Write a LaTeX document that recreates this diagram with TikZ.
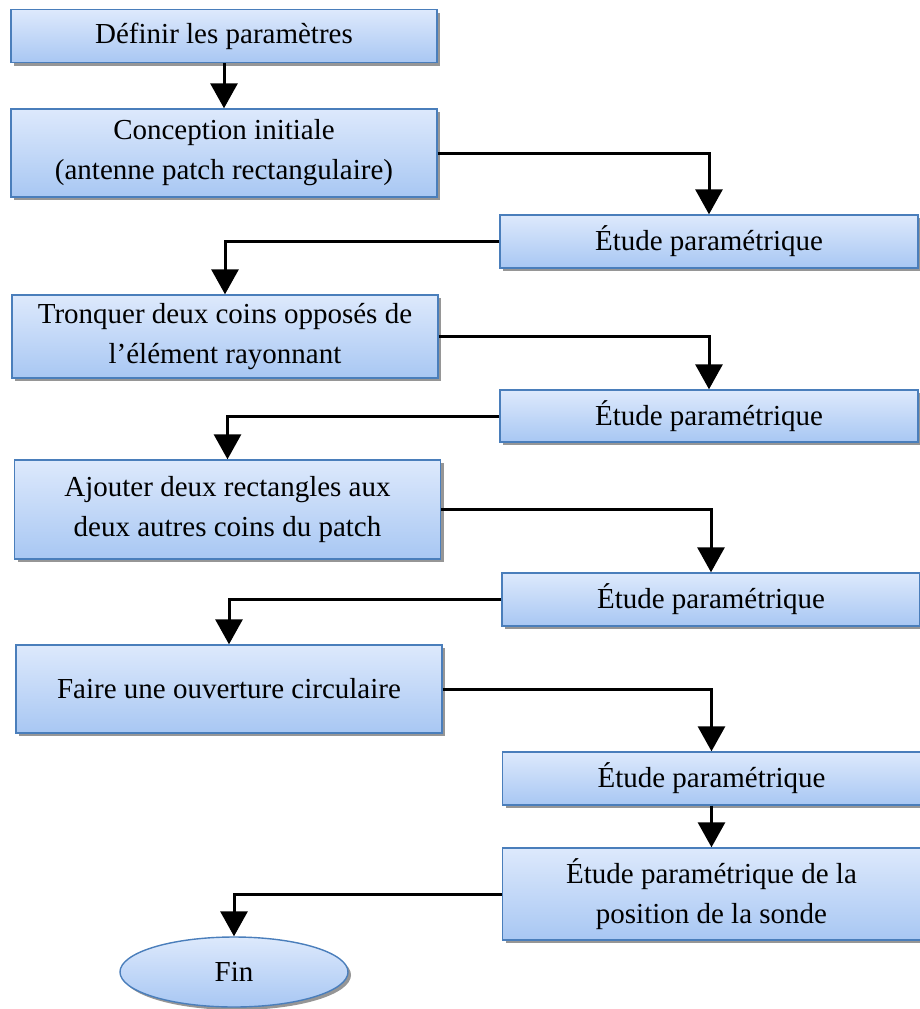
\documentclass[tikz,border=0pt]{standalone}
\usepackage{fontspec}
\setmainfont{Liberation Serif}
\usepackage{xcolor}
\usepackage{tikz}
\usetikzlibrary{shapes,arrows.meta,positioning,shadows}
\definecolor{boxline}{RGB}{74,126,187}
\definecolor{boxtop}{RGB}{221,233,252}
\definecolor{boxbottom}{RGB}{168,199,243}
\definecolor{boxshadow}{RGB}{150,150,150}

\begin{document}
\begin{tikzpicture}[x=0.5pt, y=-0.5pt,
  font=\fontsize{14.5}{20}\selectfont,
  stage/.style={rectangle,draw=boxline,line width=0.7pt,top color=boxtop,bottom color=boxbottom,align=center,inner sep=2pt,
    drop shadow={shadow xshift=1.5pt,shadow yshift=-1.5pt,fill=boxshadow,opacity=1}},
  left/.style={stage,minimum width=213pt},
  right/.style={stage,minimum width=209pt},
  finish/.style={ellipse,draw=boxline,line width=0.7pt,top color=boxtop,bottom color=boxbottom,minimum width=114pt,minimum height=35pt,
    drop shadow={shadow xshift=1.5pt,shadow yshift=-1.5pt,fill=boxshadow,opacity=1}},
  line/.style={draw=black,line width=1.5pt,-{Triangle[length=12.5pt,width=13.5pt]}}]

  \useasboundingbox (0,0) rectangle (920,1009);

  \node[left,minimum height=26.5pt] (params) at (224,36) {Définir les paramètres};
  \node[left,minimum height=44pt] (init) at (224,153) {Conception initiale\\(antenne patch rectangulaire)};
  \node[right,minimum height=26.5pt] (etude1) at (709,241.5) {Étude paramétrique};
  \node[left,minimum height=41.5pt] (tronquer) at (225,336.5) {Tronquer deux coins opposés de\\l’élément rayonnant};
  \node[right,minimum height=26pt] (etude2) at (709,416) {Étude paramétrique};
  \node[left,minimum height=49.5pt] (ajouter) at (227.5,509.5) {Ajouter deux rectangles aux\\deux autres coins du patch};
  \node[right,minimum height=26.5pt] (etude3) at (711,599.5) {Étude paramétrique};
  \node[left,minimum height=44pt] (ouverture) at (229,689) {Faire une ouverture circulaire};
  \node[right,minimum height=26.5pt] (etude4) at (711.5,778.5) {Étude paramétrique};
  \node[right,minimum height=46pt] (sonde) at (711.5,894) {Étude paramétrique de la\\position de la sonde};
  \node[finish] (fin) at (234,972) {Fin};

  \draw[line] (params) -- (init);
  \draw[line] (init.east) -| (etude1.north);
  \draw[line] (etude1.west) -| (tronquer.north);
  \draw[line] (tronquer.east) -| (etude2.north);
  \draw[line] (etude2.west) -| (ajouter.north);
  \draw[line] (ajouter.east) -| (etude3.north);
  \draw[line] (etude3.west) -| (ouverture.north);
  \draw[line] (ouverture.east) -| (etude4.north);
  \draw[line] (etude4) -- (sonde);
  \draw[line] (sonde.west) -| (fin.north);
\end{tikzpicture}
\end{document}
